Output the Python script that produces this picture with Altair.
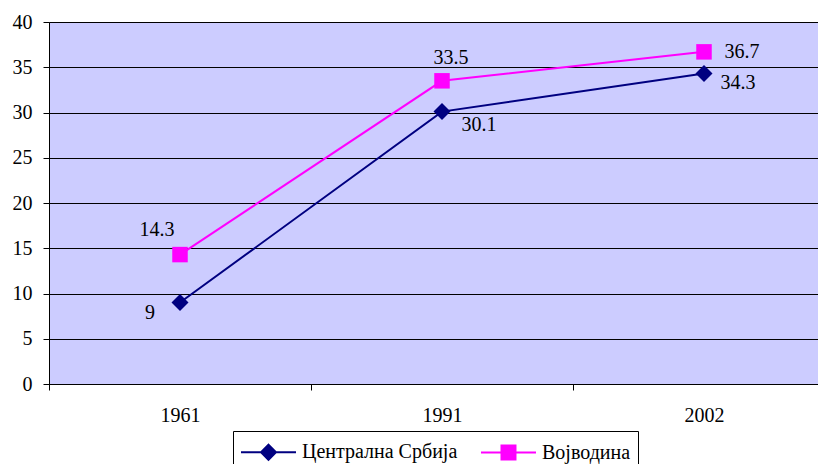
import altair as alt
import pandas as pd

years = ["1961", "1991", "2002"]
series_names = ["Централна Србија", "Војводина"]
central = [9, 30.1, 34.3]
vojvodina = [14.3, 33.5, 36.7]

rows = []
for s, vals in zip(series_names, [central, vojvodina]):
    for i, (y, v) in enumerate(zip(years, vals)):
        rows.append({"year": y, "series": s, "value": v, "label": str(v), "idx": i})
df = pd.DataFrame(rows)

colors = ["#000080", "#FF00FF"]
FONT = "Liberation Serif"
FS = 20

legend_def = alt.Legend(
    title=None, orient="none", legendX=184, legendY=409, direction="horizontal",
    strokeColor="black", fillColor="white", padding=7, columnPadding=19,
    labelFont=FONT, labelFontSize=FS, labelColor="black", labelOffset=34,
    symbolSize=676, symbolStrokeWidth=2,
)

xenc = alt.X("year:N", sort=years, title=None,
             scale=alt.Scale(type="band", paddingInner=0, paddingOuter=0),
             axis=alt.Axis(labelAngle=0, tickBand="extent", tickSize=6, labelPadding=15,
                           grid=False))
yenc = alt.Y("value:Q", title=None,
             scale=alt.Scale(domain=[0, 40], nice=False, zero=True),
             axis=alt.Axis(values=list(range(0, 41, 5)), grid=True, tickSize=6, labelPadding=11))
cenc = alt.Color("series:N", scale=alt.Scale(domain=series_names, range=colors), legend=legend_def)

base = alt.Chart(df)

lines = base.mark_line(strokeWidth=2).encode(x=xenc, y=yenc, color=cenc, detail="series:N")

pts_c = base.transform_filter(alt.datum.series == series_names[0]).mark_point(
    filled=True, shape="diamond", size=289, opacity=1).encode(x=xenc, y=yenc, color=cenc)
pts_v = base.transform_filter(alt.datum.series == series_names[1]).mark_point(
    filled=True, shape="square", size=240, opacity=1).encode(x=xenc, y=yenc, color=cenc)

diamond_path = "M-1,0H0.54M1.69,0H3.23M1.115,-0.577L1.69,0L1.115,0.577L0.54,0Z"
square_path = "M-1,0H0.577M1.653,0H3.23M0.577,-0.538H1.653V0.538H0.577Z"
legend_layer = base.transform_filter("datum.value < 0").mark_point(
    filled=True, opacity=1, strokeWidth=2).encode(
    x=xenc, y=yenc, color=cenc,
    shape=alt.Shape("series:N", scale=alt.Scale(domain=series_names,
                                                range=[diamond_path, square_path]),
                    legend=legend_def),
)

offsets = {
    (0, 0): (-30, 10), (0, 1): (37, 13), (0, 2): (34, 9),
    (1, 0): (-23, -25), (1, 1): (9, -23), (1, 2): (38, 0),
}
texts = []
for (si, i), (dx, dy) in offsets.items():
    t = base.transform_filter(
        (alt.datum.series == series_names[si]) & (alt.datum.idx == i)
    ).mark_text(font=FONT, fontSize=FS, color="black", dx=dx, dy=dy,
                align="center", baseline="middle").encode(x=xenc, y=yenc, text="label:N")
    texts.append(t)

chart = alt.layer(lines, pts_c, pts_v, legend_layer, *texts).properties(
    width=786, height=362,
    autosize=alt.AutoSizeParams(type="none"),
    padding={"left": 41, "top": 14, "right": -17, "bottom": 80},
    background="white",
).configure_view(
    fill="#CCCCFF", stroke="#808080", strokeWidth=1,
).configure_axis(
    labelFont=FONT, labelFontSize=FS, labelColor="black",
    tickColor="black", domainColor="black", gridColor="black", gridOpacity=1,
    domainWidth=1, tickWidth=1, gridWidth=1,
)

chart.save("out.html", embed_options={"renderer": "svg", "actions": False})
